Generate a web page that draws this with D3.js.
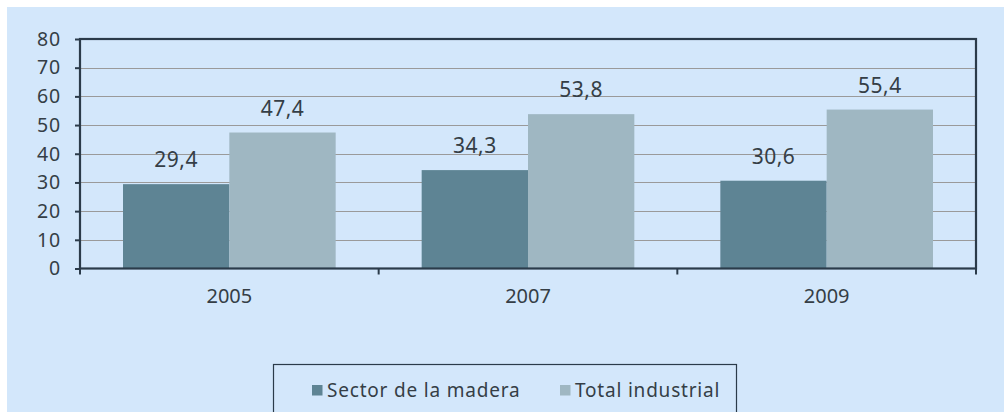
<!DOCTYPE html>
<html><head><meta charset="utf-8">
<script src="https://cdn.jsdelivr.net/npm/d3@7"></script>
<style>body{margin:0;background:#fff}svg{display:block}text{font-family:"Noto Sans",sans-serif;fill:#353e46}</style>
</head><body>
<script>
const categories = ["2005","2007","2009"];
const seriesNames = ["Sector de la madera","Total industrial"];
const madera = [29.4, 34.3, 30.6];
const industrial = [47.4, 53.8, 55.4];
const yTicks = [0,10,20,30,40,50,60,70,80];
const colors = ["#5E8494","#9FB7C2"];

const W=1004,H=412;
const FONT="'Noto Sans',sans-serif";
const svg=d3.select("body").append("svg").attr("width",W).attr("height",H);
svg.append("rect").attr("x",7).attr("y",7).attr("width",W-7).attr("height",H-7).attr("fill","#D3E7FB");

const L=80,R=976,T=39,B=268.5;
const x=d3.scaleBand().domain(categories).range([L,R]).paddingInner(0).paddingOuter(0);
const y=d3.scaleLinear().domain([0,80]).range([B,T]);

// gridlines
svg.append("g").selectAll("line").data(yTicks.filter(d=>d>0&&d<80)).join("line")
  .attr("x1",L).attr("x2",R).attr("y1",d=>Math.round(y(d))+0.5).attr("y2",d=>Math.round(y(d))+0.5)
  .attr("stroke","#9a9a9a").attr("stroke-width",1);

const data=categories.map((c,i)=>({c,v:[madera[i],industrial[i]]}));
const gap=43/298.67*x.bandwidth();
const bw=(x.bandwidth()-2*gap)/2;
const g=svg.append("g");
data.forEach(d=>{
  d.v.forEach((v,j)=>{
    const bx=x(d.c)+gap+j*bw;
    g.append("rect").attr("x",bx).attr("y",y(v)).attr("width",bw).attr("height",y(0)-y(v)).attr("fill",colors[j]);
    g.append("text").attr("x",bx+bw/2).attr("y",y(v)-17).attr("text-anchor","middle")
      .attr("font-size",21).attr("letter-spacing",0.5).text(d3.format(".1f")(v).replace(".",","));
  });
});

// frame
svg.append("rect").attr("x",L).attr("y",T).attr("width",R-L).attr("height",B-T)
  .attr("fill","none").attr("stroke","#2B3B4A").attr("stroke-width",2.2);

// y axis
const ya=svg.append("g").attr("transform",`translate(${L},0)`)
  .call(d3.axisLeft(y).tickValues(yTicks).tickSize(5).tickPadding(14).tickFormat(d3.format("d")));
ya.select(".domain").remove();
ya.selectAll("line").attr("stroke","#2B3B4A").attr("stroke-width",2);
ya.attr("font-family",FONT).attr("font-size",19.5);
ya.selectAll("text").attr("fill","#353e46").attr("letter-spacing",0.8);

// x axis
const xa=svg.append("g").attr("transform",`translate(0,${B})`)
  .call(d3.axisBottom(x).tickSize(0).tickPadding(20));
xa.select(".domain").remove();
xa.attr("font-family",FONT).attr("font-size",20);
xa.selectAll("text").attr("fill","#353e46");
// category boundary ticks
svg.append("g").selectAll("line").data(categories).join("line")
  .attr("x1",d=>x(d)).attr("x2",d=>x(d)).attr("y1",B).attr("y2",B+6)
  .attr("stroke","#2B3B4A").attr("stroke-width",2);
svg.append("line").attr("x1",R).attr("x2",R).attr("y1",B).attr("y2",B+6).attr("stroke","#2B3B4A").attr("stroke-width",2);

// legend
const lg=svg.append("g");
lg.append("rect").attr("x",273.5).attr("y",364.5).attr("width",463).attr("height",60)
  .attr("fill","none").attr("stroke","#2B3B4A").attr("stroke-width",1.2);
const lx=[312,560];
seriesNames.forEach((n,i)=>{
  lg.append("rect").attr("x",lx[i]).attr("y",385).attr("width",10.5).attr("height",10.5).attr("fill",colors[i]);
  lg.append("text").attr("x",lx[i]+15).attr("y",396.5).attr("font-size",19).attr("letter-spacing",0.8).text(n);
});
</script>
</body></html>
